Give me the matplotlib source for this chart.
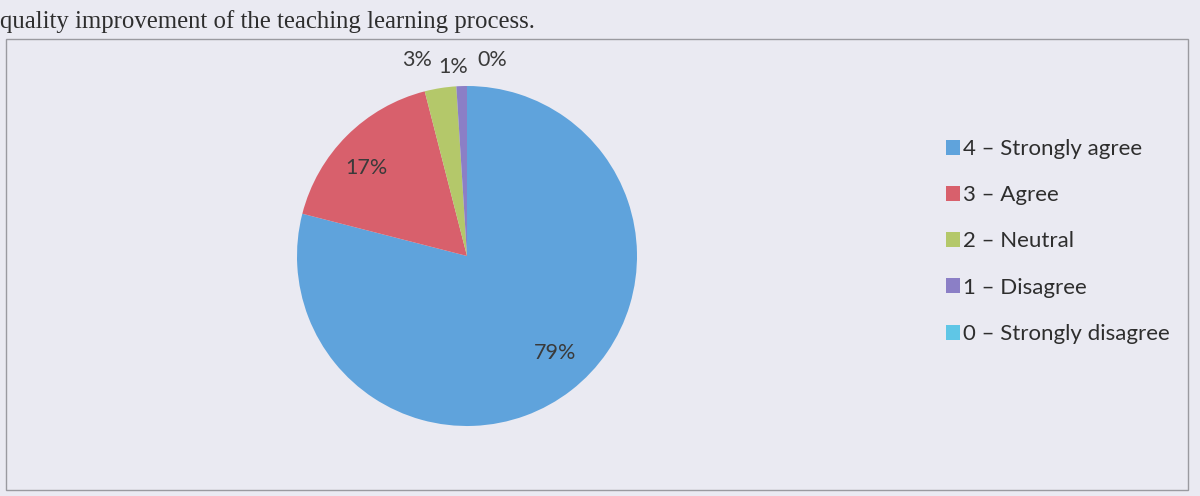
import matplotlib.pyplot as plt
from matplotlib.patches import Rectangle, Patch

# data
categories = ["4 – Strongly agree", "3 – Agree", "2 – Neutral", "1 – Disagree", "0 – Strongly disagree"]
values = [79, 17, 3, 1, 0]
pct_labels = ["79%", "17%", "3%", "1%", "0%"]
colors = ["#5fa3dc", "#d8606c", "#b4c86a", "#8b7fc6", "#5fc6e6"]

bg = "#eaeaf2"
fig = plt.figure(figsize=(12, 4.96), dpi=100, facecolor=bg)

# caption line from the scanned page
fig.text(0.0, 1 - 22 / 496, "quality improvement of the teaching learning process.",
         family="Liberation Serif", fontsize=17.8, color="#2e2e2e", va="center")

# chart frame
fig.patches.append(Rectangle((0.005, 0.012), 0.985, 0.91, transform=fig.transFigure,
                             fill=False, edgecolor="#9a9aa0", linewidth=1.0))

# pie axis: center ~ (467, 256) px, radius ~170 px
r = 170
cx, cy = 467, 496 - 256
ax = fig.add_axes([(cx - r) / 1200, (cy - r) / 496, 2 * r / 1200, 2 * r / 496])
ax.set_facecolor(bg)
wedges, _ = ax.pie(values, colors=colors, startangle=90, counterclock=False,
                   radius=1.0, wedgeprops=dict(linewidth=0))
ax.set_aspect("auto")
ax.set_xlim(-1, 1)
ax.set_ylim(-1, 1)
ax.axis("off")

# percentage labels (pixel positions from the reference)
label_pos = [(555, 353), (366, 168), (417, 60), (453, 67), (492, 60)]
for txt, (px, py) in zip(pct_labels, label_pos):
    fig.text(px / 1200, 1 - py / 496, txt, family="Lato", fontsize=15.5,
             color="#3a3a3a", ha="center", va="center")

handles = [Patch(facecolor=c, edgecolor="none") for c in colors]
leg = fig.legend(handles, categories, loc="upper left",
                 bbox_to_anchor=(926 / 1200, 1 - 119 / 496),
                 frameon=False, handlelength=0.65, handleheight=0.65,
                 handletextpad=0.12, labelspacing=1.18,
                 prop=dict(family="Lato", size=16))
for t in leg.get_texts():
    t.set_color("#2e2e2e")

fig.savefig("out.png", dpi=100, facecolor=bg)
